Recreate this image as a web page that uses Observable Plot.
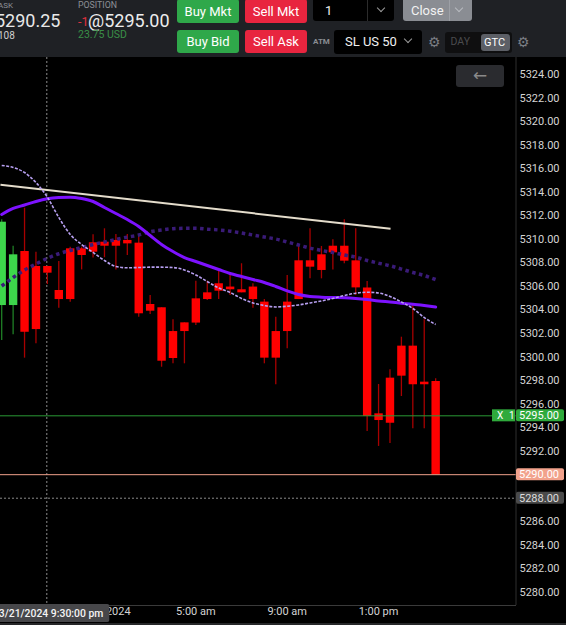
<!DOCTYPE html>
<html><head><meta charset="utf-8">
<script src="https://cdn.jsdelivr.net/npm/d3@7"></script>
<script src="https://cdn.jsdelivr.net/npm/@observablehq/plot@0.6"></script>
<style>
body{margin:0;background:#000;width:566px;height:625px;overflow:hidden;font-family:Roboto,sans-serif;}
#tb{position:relative;height:57px;background:#1f2125;overflow:hidden;}
#tb div{position:absolute;white-space:nowrap;line-height:1;}
.btn{color:#fff;font-size:13px;border-radius:3px;display:flex;align-items:center;justify-content:center;}
.chev{width:5px;height:5px;border-right:1.5px solid #9a9a9a;border-bottom:1.5px solid #9a9a9a;transform:rotate(45deg);}
#chart{position:relative;}
#back{position:absolute;z-index:2;left:456px;top:8px;width:48px;height:22px;background:#2a2b2f;border-radius:3px;color:#8a8a8a;font-size:17px;text-align:center;line-height:21px;font-family:"DejaVu Sans";}
</style></head><body>
<div id="tb">
  <div style="left:-2px;top:1.6px;font-size:8px;color:#8d9096">ASK</div>
  <div style="left:-5px;top:11.9px;font-size:18px;color:#e8e8e8">5290.25</div>
  <div style="left:-2px;top:30.6px;font-size:10px;color:#cfcfcf">108</div>
  <div style="left:78px;top:0.9px;font-size:8.8px;color:#8d9096">POSITION</div>
  <div style="left:78px;top:16.2px;font-size:12.5px;color:#e0303e">-1</div>
  <div style="left:88px;top:11.9px;font-size:18px;color:#ececec">@5295.00</div>
  <div style="left:78px;top:30.2px;font-size:10.5px;color:#3a8f47">23.75 USD</div>

  <div class="btn" style="left:177px;top:-1px;width:62px;height:24px;background:#2fa84a">Buy Mkt</div>
  <div class="btn" style="left:245px;top:-1px;width:62px;height:24px;background:#e8253f">Sell Mkt</div>
  <div class="btn" style="left:177px;top:29.6px;width:62px;height:23.5px;background:#2fa84a">Buy Bid</div>
  <div class="btn" style="left:245px;top:29.6px;width:62px;height:23.5px;background:#e8253f">Sell Ask</div>

  <div style="left:313px;top:-3px;width:81px;height:24px;background:#000;border-radius:3px"></div>
  <div style="left:325px;top:3.5px;font-size:13px;color:#eee">1</div>
  <div style="left:367px;top:0;width:1px;height:21px;background:#2c2c2c"></div>
  <div class="chev" style="left:378px;top:4.5px"></div>

  <div style="left:402.5px;top:-3px;width:69.5px;height:24px;background:#8a8d93;border-radius:3px"></div>
  <div style="left:411px;top:3.5px;font-size:13px;color:#f2f2f2">Close</div>
  <div style="left:449px;top:0;width:1px;height:21px;background:#9da0a6"></div>
  <div class="chev" style="left:456px;top:4.5px;border-color:#b8bbc0"></div>

  <div style="left:313px;top:37.5px;font-size:8px;font-weight:bold;color:#8a8d93">ATM</div>
  <div style="left:334px;top:29.6px;width:88px;height:24px;background:#000;border-radius:3px"></div>
  <div style="left:345px;top:35px;font-size:13px;color:#f0f0f0">SL US 50</div>
  <div class="chev" style="left:405px;top:36px"></div>
  <div style="left:428px;top:35px;font-size:14px;color:#7a7d83;font-family:'DejaVu Sans'">⚙</div>

  <div style="left:445px;top:32px;width:67px;height:20.5px;background:#0f0f10;border-radius:3px"></div>
  <div style="left:450.5px;top:37px;font-size:10.5px;color:#4a4b4e">DAY</div>
  <div style="left:481px;top:33.5px;width:29px;height:17.5px;background:#5c5f66;border-radius:3px"></div>
  <div style="left:484px;top:37px;font-size:11px;color:#fff">GTC</div>
  <div style="left:517px;top:35px;font-size:14px;color:#7a7d83;font-family:'DejaVu Sans'">⚙</div>
</div>
<div id="chart"><div id="back">←</div></div>
<script>
// 30-minute candles, index 0..38
const opens  = [5304.37,5304.37,5308.96,5307.69,5307.69,5305.65,5309.19,5309.19,5309.70,5309.75,5309.90,5309.90,5309.67,5304.46,5304.18,5302.16,5302.90,5304.94,5305.45,5306.22,5305.94,5305.71,5305.94,5304.66,5302.16,5304.66,5308.17,5308.17,5308.68,5309.41,5309.41,5308.17,5305.87,5295.17,5298.20,5300.92,5300.92,5297.86,5297.92];
const highs  = [5311.65,5309.41,5312.64,5308.90,5307.69,5308.11,5309.33,5309.33,5310.38,5310.89,5310.40,5310.40,5310.38,5305.22,5304.18,5303.16,5302.90,5306.44,5306.44,5307.29,5307.01,5307.92,5306.22,5304.88,5303.38,5306.92,5309.39,5310.89,5309.39,5309.96,5311.65,5310.89,5306.41,5297.66,5298.91,5301.68,5304.37,5303.16,5298.14];
const lows   = [5301.40,5301.88,5299.90,5301.12,5306.16,5304.15,5304.66,5307.40,5308.40,5308.43,5307.40,5308.62,5303.38,5303.60,5299.13,5299.42,5299.42,5302.68,5304.80,5304.88,5305.22,5305.45,5304.15,5299.42,5297.64,5300.70,5304.88,5306.64,5306.64,5307.40,5307.92,5305.22,5293.67,5292.40,5292.64,5296.64,5293.90,5293.90,5290.00];
const closes = [5311.45,5308.68,5302.10,5302.33,5307.12,5304.88,5304.88,5308.62,5308.90,5309.41,5309.41,5309.61,5303.67,5303.89,5299.64,5299.87,5302.16,5302.88,5304.88,5305.59,5305.71,5305.45,5304.88,5299.90,5299.90,5302.16,5304.88,5307.63,5307.35,5308.85,5308.14,5305.87,5294.94,5294.60,5294.37,5298.37,5297.64,5297.64,5290.00];

// moving averages (per candle)
const maSolid = [5312.11,5312.62,5312.91,5313.21,5313.44,5313.55,5313.58,5313.46,5313.21,5312.70,5312.19,5311.68,5311.09,5310.32,5309.56,5308.96,5308.45,5308.11,5307.77,5307.43,5307.09,5306.84,5306.58,5306.33,5305.99,5305.61,5305.31,5305.14,5305.08,5305.05,5305.03,5304.97,5304.88,5304.76,5304.67,5304.57,5304.48,5304.37,5304.25];
const maLavender = [5316.27,5316.10,5315.67,5314.82,5313.58,5311.85,5310.41,5309.56,5308.88,5308.20,5307.69,5307.58,5307.60,5307.63,5307.63,5307.60,5307.39,5306.97,5306.41,5305.86,5305.48,5304.97,5304.59,5304.37,5304.25,5304.31,5304.42,5304.59,5304.76,5304.97,5305.22,5305.42,5305.50,5305.44,5305.14,5304.67,5304.12,5303.35,5302.76];
const maDotted = [5306.03,5306.75,5307.39,5307.90,5308.38,5308.77,5309.05,5309.30,5309.56,5309.77,5309.98,5310.18,5310.36,5310.64,5310.79,5310.90,5310.93,5310.93,5310.86,5310.79,5310.69,5310.53,5310.36,5310.19,5310.02,5309.77,5309.51,5309.25,5309.05,5308.88,5308.66,5308.48,5308.20,5307.97,5307.75,5307.47,5307.18,5306.92,5306.58];

// trend line endpoints [candle index, price]
const trendIdx = [-0.11, 34.05];
const trendVal = [5314.63, 5310.89];

// price levels
const positionLevel = 5295;
const askLevel = 5290;
const dottedLevel = 5288;

// crosshair
const crossIdx = 3.95;
const crossLabel = "3/21/2024 9:30:00 pm";

// axis ticks
const yTicks = [5280,5282,5284,5286,5288,5290,5292,5294,5296,5298,5300,5302,5304,5306,5308,5310,5312,5314,5316,5318,5320,5322,5324];
const xTickIdx = [9, 17, 25, 33];
const xTickLabels = ["3/22/2024", "5:00 am", "9:00 am", "1:00 pm"];

const candles = opens.map((o, i) => ({i, o, h: highs[i], l: lows[i], c: closes[i], up: closes[i] >= o}));
const line = arr => arr.map((v, i) => ({i, v}));
const trend = trendIdx.map((i, k) => ({i, v: trendVal[k]}));

const W = 566, H = 568, MR = 50, MB = 20;
const plot = Plot.plot({
  width: W, height: H,
  marginLeft: 0, marginRight: MR, marginTop: 0, marginBottom: MB,
  style: {background: "#000", color: "#d4d4d4", fontFamily: "Roboto, sans-serif", fontSize: "11px"},
  x: {type: "linear", domain: [-0.105, 45.079], label: null},
  y: {type: "linear", domain: [5278.885, 5325.444], label: null},
  marks: [
    Plot.ruleX([crossIdx], {stroke: "#8c8c8c", strokeWidth: 1, strokeDasharray: "2,2"}),
    Plot.ruleX(candles, {x: "i", y1: "l", y2: "h", stroke: d => d.up ? "#1f7f25" : "#a80000", strokeWidth: 1.3, clip: true}),
    Plot.ruleX(candles, {x: "i", y1: "o", y2: "c", stroke: d => d.up ? "#3dd64b" : "#ff0000", strokeWidth: 8.4, clip: true}),
    Plot.line(trend, {x: "i", y: "v", stroke: "#e4dccb", strokeWidth: 2, strokeLinecap: "butt", clip: true}),
    Plot.line(line(maDotted), {x: "i", y: "v", stroke: "#3a1b78", strokeWidth: 3.5, strokeDasharray: "3.5,3.5", strokeLinecap: "butt", curve: "monotone-x", clip: true}),
    Plot.line(line(maSolid), {x: "i", y: "v", stroke: "#7d12ff", strokeWidth: 3, curve: "monotone-x", clip: true}),
    Plot.line(line(maLavender), {x: "i", y: "v", stroke: "#b79ff0", strokeWidth: 1.6, strokeDasharray: "3,1.5", strokeLinecap: "butt", curve: "monotone-x", clip: true}),
    Plot.ruleY([positionLevel], {stroke: "#2a9a35", strokeWidth: 1}),
    Plot.ruleY([askLevel], {stroke: "#f0a08a", strokeWidth: 1}),
    Plot.ruleY([dottedLevel], {stroke: "#8a8a8a", strokeWidth: 1, strokeDasharray: "2,2"}),
    Plot.axisY({anchor: "right", ticks: yTicks, tickFormat: d => d.toFixed(2), tickSize: 0, tickPadding: 3, label: null}),
    Plot.axisX({ticks: xTickIdx, tickFormat: d => xTickLabels[xTickIdx.indexOf(d)], tickSize: 0, tickPadding: 2, label: null})
  ]
});

const xs = plot.scale("x"), ys = plot.scale("y");
const svg = d3.select(plot);
const frameR = xs.apply(45.079), frameB = H - MB;
svg.append("line").attr("x1", frameR).attr("x2", frameR).attr("y1", 0).attr("y2", frameB).attr("stroke", "#2e2e2e");
svg.append("line").attr("x1", 0).attr("x2", frameR).attr("y1", frameB + 0.5).attr("y2", frameB + 0.5).attr("stroke", "#3a3a3a");
svg.append("rect").attr("x", 0).attr("y", H - 2).attr("width", W).attr("height", 2).attr("fill", "#262729");

function tag(v, label, bg, fg) {
  const y = ys.apply(v);
  svg.append("rect").attr("x", frameR).attr("y", y - 6).attr("width", 48).attr("height", 12).attr("rx", 2).attr("fill", bg);
  svg.append("text").attr("x", frameR + 3).attr("y", y).attr("dy", "0.36em").attr("fill", fg).attr("text-anchor", "start")
    .attr("font-size", 11).attr("font-family", "Roboto").text(label);
}
tag(positionLevel, positionLevel.toFixed(2), "#2faa3c", "#ffffff");
tag(askLevel, askLevel.toFixed(2), "#f2a28c", "#ffffff");
tag(dottedLevel, dottedLevel.toFixed(2), "#4a4a4a", "#dcdcdc");
{
  const y = ys.apply(positionLevel);
  svg.append("rect").attr("x", frameR - 24).attr("y", y - 6).attr("width", 23).attr("height", 12).attr("fill", "#2faa3c");
  svg.append("text").attr("x", frameR - 19).attr("y", y).attr("dy", "0.36em").attr("text-anchor", "start").attr("fill", "#fff").attr("font-size", 10).attr("font-family", "Roboto").text("X");
  svg.append("text").attr("x", frameR - 7).attr("y", y).attr("dy", "0.36em").attr("text-anchor", "start").attr("fill", "#fff").attr("font-size", 10).attr("font-family", "Roboto").text("1");
}
{
  const cx = xs.apply(crossIdx);
  svg.append("rect").attr("x", cx - 62).attr("y", frameB - 1).attr("width", 125).attr("height", 18).attr("rx", 2).attr("fill", "#47474a");
  svg.append("text").attr("x", cx + 57).attr("y", frameB + 8).attr("dy", "0.36em").attr("text-anchor", "end")
    .attr("fill", "#f4f4f4").attr("font-size", 10.4).attr("font-weight", 500).attr("font-family", "Roboto").text(crossLabel);
}
document.getElementById("chart").appendChild(plot);
</script>
</body></html>
